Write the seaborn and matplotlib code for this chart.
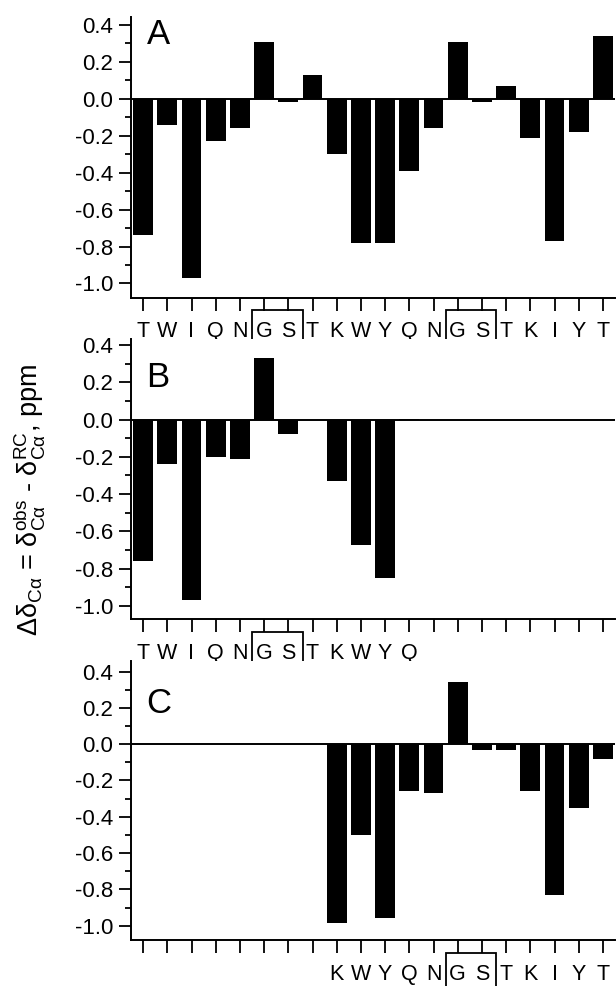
import numpy as np
import pandas as pd
import matplotlib
matplotlib.use("Agg")
import matplotlib.pyplot as plt
import matplotlib.transforms as mtransforms
from matplotlib.patches import Rectangle
from matplotlib.ticker import MultipleLocator
import seaborn as sns

# ---- data ----
sequence = ['T', 'W', 'I', 'Q', 'N', 'G', 'S', 'T', 'K', 'W',
            'Y', 'Q', 'N', 'G', 'S', 'T', 'K', 'I', 'Y', 'T']
positions = list(range(20))

values_A = [-0.74, -0.14, -0.97, -0.23, -0.16, 0.31, -0.02, 0.13, -0.30, -0.78,
            -0.78, -0.39, -0.16, 0.31, -0.02, 0.07, -0.21, -0.77, -0.18, 0.34]
pos_B = list(range(0, 12))
values_B = [-0.76, -0.24, -0.97, -0.20, -0.21, 0.33, -0.08, -0.005, -0.33, -0.675,
            -0.85, 0.005]
pos_C = list(range(8, 20))
values_C = [-0.985, -0.50, -0.96, -0.26, -0.27, 0.345, -0.03, -0.03, -0.26, -0.83,
            -0.35, -0.08]

y_ticks = [-1.0, -0.8, -0.6, -0.4, -0.2, 0.0, 0.2, 0.4]
y_ticklabels = ['-1.0', '-0.8', '-0.6', '-0.4', '-0.2', '0.0', '0.2', '0.4']

panel_letters = ['A', 'B', 'C']
boxed_A = [(5, 6), (13, 14)]
boxed_B = [(5, 6)]
boxed_C = [(13, 14)]

# ---- style ----
sns.set_style('ticks')
plt.rcParams['font.family'] = ['Liberation Sans', 'DejaVu Sans']
plt.rcParams['mathtext.default'] = 'regular'
plt.rcParams['axes.unicode_minus'] = False
plt.rcParams['text.color'] = 'black'
plt.rcParams['xtick.color'] = 'black'
plt.rcParams['ytick.color'] = 'black'
plt.rcParams['xtick.labelcolor'] = 'black'
plt.rcParams['ytick.labelcolor'] = 'black'
plt.rcParams['axes.labelcolor'] = 'black'

W, H = 616, 986
fig = plt.figure(figsize=(W / 100, H / 100), dpi=100)

# axes geometry in pixels (left, top, right, bottom)
ax_px = [(131, 17, 615, 297.5), (131, 339.3, 615, 619.3), (131, 660.7, 615, 940)]
ylims = [(-1.076, 0.443), (-1.071, 0.43), (-1.079, 0.46)]
letter_y = [0.997, 0.922, 0.907]

panels = [
    (positions, values_A, positions, boxed_A),
    (pos_B, values_B, pos_B, boxed_B),
    (pos_C, values_C, pos_C, boxed_C),
]

for i, (pos, vals, lab_pos, boxes) in enumerate(panels):
    l, t, r, b = ax_px[i]
    ax = fig.add_axes([l / W, 1 - b / H, (r - l) / W, (b - t) / H])
    df = pd.DataFrame({'pos': pos, 'value': vals})
    sns.barplot(data=df, x='pos', y='value', order=positions, color='black',
                saturation=1, width=0.82, errorbar=None, ax=ax, linewidth=0)
    ax.set_xlim(-0.5, 19.5)
    ax.set_ylim(*ylims[i])
    ax.axhline(0, color='black', lw=1.4, zorder=0.5)

    labels = [sequence[k] if k in lab_pos else '' for k in positions]
    ax.set_xticks(positions)
    ax.set_xticklabels(labels, fontsize=15.5, color='black')
    ax.set_yticks(y_ticks)
    ax.set_yticklabels(y_ticklabels, fontsize=16, color='black')
    ax.yaxis.set_minor_locator(MultipleLocator(0.1))
    ax.tick_params(axis='y', which='major', direction='out', length=9, width=1.3,
                   pad=4, color='black')
    ax.tick_params(axis='y', which='minor', direction='out', length=4.5, width=1.3,
                   color='black')
    ax.tick_params(axis='x', which='major', direction='out', length=9, width=1.3,
                   pad=8, color='black')
    ax.set_xlabel('')
    ax.set_ylabel('')
    for s in ['top', 'right']:
        ax.spines[s].set_visible(False)
    for s in ['left', 'bottom']:
        ax.spines[s].set_linewidth(1.4)
        ax.spines[s].set_color('black')

    ax.text(0.032, letter_y[i], panel_letters[i], transform=ax.transAxes,
            fontsize=25, va='top', ha='left', color='black')

    # boxes around the G S pairs, placed below the axis
    trans = mtransforms.blended_transform_factory(ax.transData, ax.transAxes)
    hpx = b - t
    for (a0, a1) in boxes:
        x0 = a0 - 0.48
        x1 = a1 + 0.6
        y0 = -48 / hpx
        y1 = -12.5 / hpx
        rect = Rectangle((x0, y0), x1 - x0, y1 - y0, transform=trans,
                         fill=False, edgecolor='black', lw=1.3, clip_on=False)
        ax.add_patch(rect)

fig.text(29 / W, 1 - 500 / H,
         r'$\Delta\delta_{C\alpha}$ = $\delta_{C\alpha}^{obs}$ - $\delta_{C\alpha}^{RC}$, ppm',
         rotation=90, ha='center', va='center', fontsize=19.5, color='black')

fig.savefig('out.png', dpi=100)
